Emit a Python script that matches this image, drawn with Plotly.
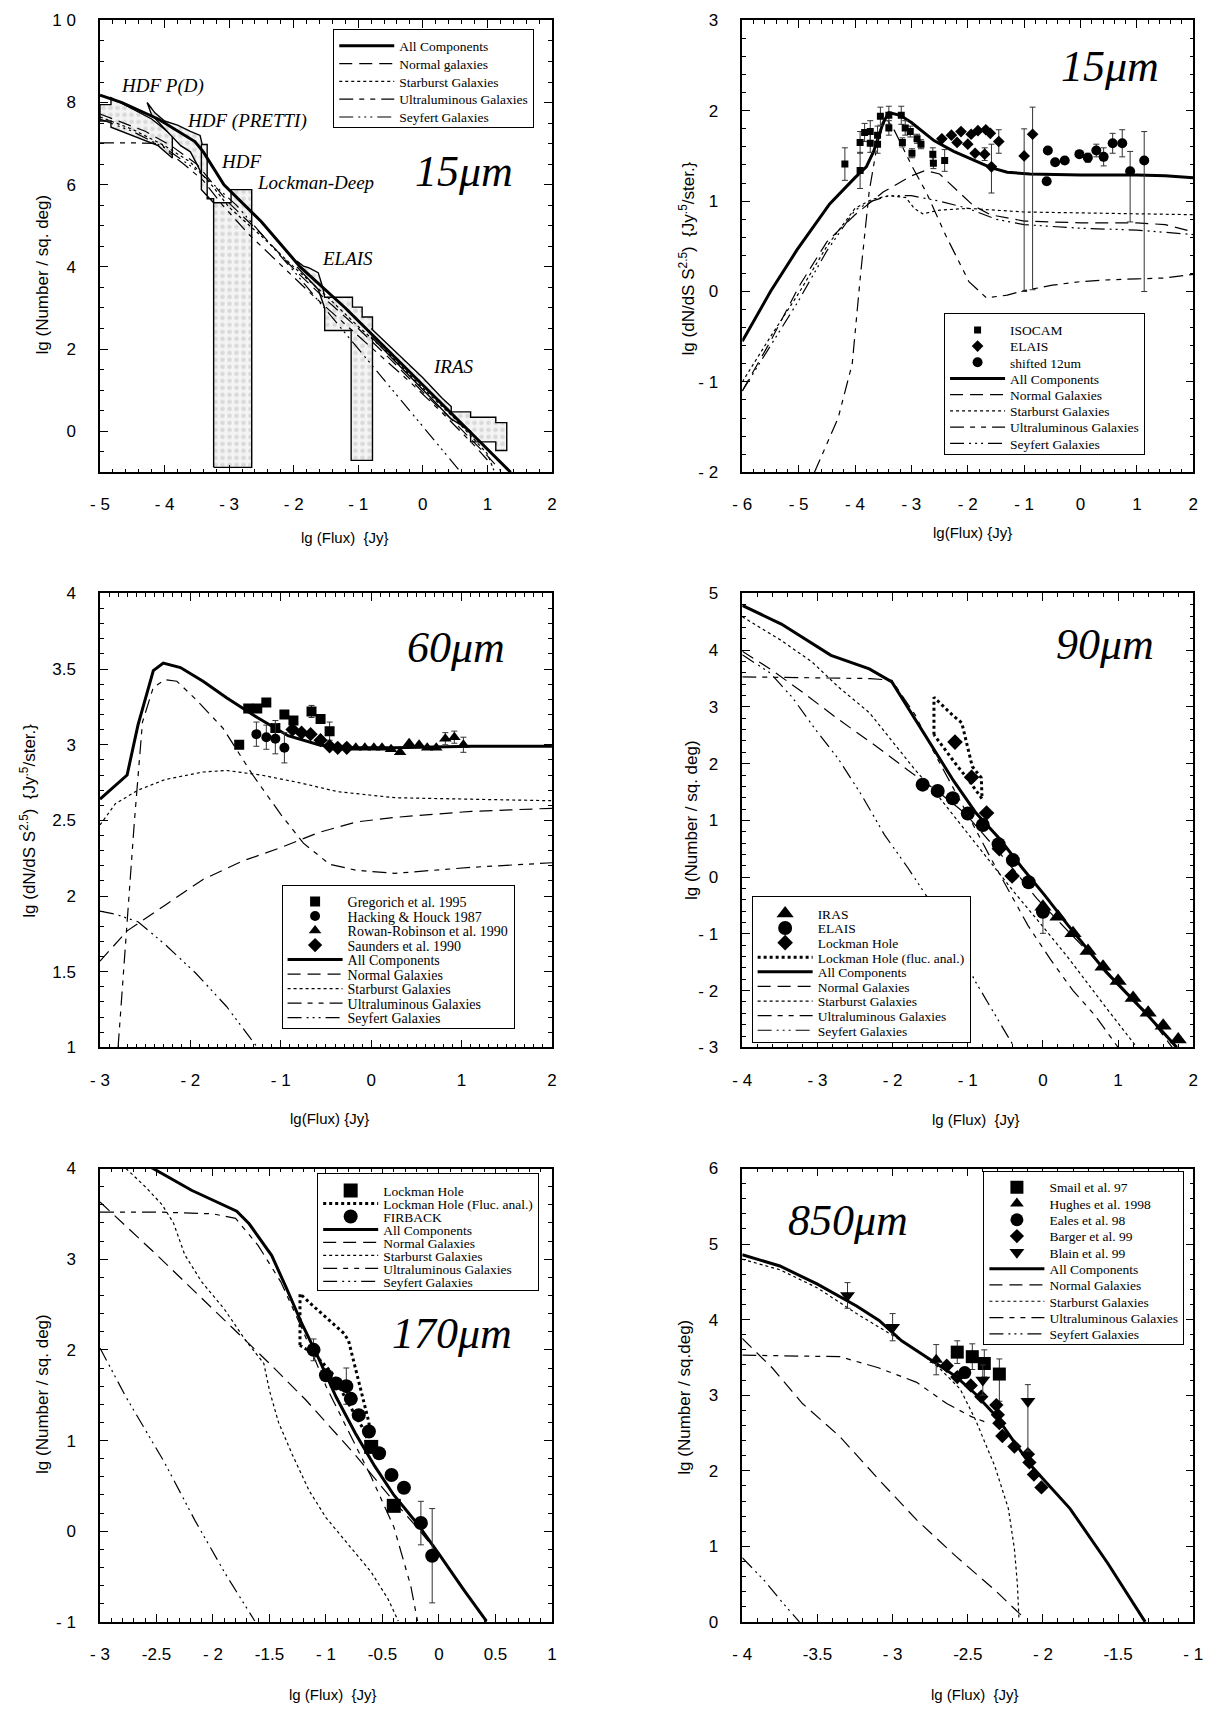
import json
import plotly.graph_objects as go

# ======================= DATA =======================
# ---- Panel 1 : 15 um integral counts ----
p1_all_x = [-5.0, -4.66, -4.1, -3.53, -3.4, -3.08, -2.5, -1.9, -1.2, -0.56, 0.0, 0.71, 1.36]
p1_all_y = [8.18, 8.0, 7.6, 7.05, 6.8, 6.0, 5.1, 4.0, 3.0, 2.0, 1.1, 0.0, -1.0]
p1_nor_x = [-5.0, -4.3, -3.9, -3.5, -3.0, -2.5, -2.0, -1.5, -1.0, -0.5, 0.0, 0.5, 1.0, 1.2]
p1_nor_y = [7.72, 7.3, 6.95, 6.5, 5.55, 4.8, 3.95, 3.2, 2.5, 1.75, 0.95, 0.2, -0.6, -0.95]
p1_sb_x = [-5.0, -4.5, -4.0, -3.6, -3.3, -3.0, -2.5, -2.0, -1.5, -1.0, -0.5, 0.0, 0.5, 1.0, 1.1]
p1_sb_y = [7.65, 7.35, 6.95, 6.55, 6.05, 5.45, 4.75, 4.0, 3.3, 2.55, 1.85, 1.05, 0.3, -0.55, -0.95]
p1_ul_x = [-5.0, -4.5, -4.05, -3.95, -3.7, -3.4, -3.1, -2.7, -2.2, -1.7, -1.2, -0.7, -0.2, 0.3, 0.8, 1.0]
p1_ul_y = [7.02, 7.02, 7.0, 6.8, 6.5, 6.1, 5.5, 4.8, 4.05, 3.3, 2.6, 1.9, 1.2, 0.45, -0.35, -0.7]
p1_sy_x = [-5.0, -4.5, -4.0, -3.5, -3.2, -2.88, -2.5, -2.0, -1.5, -1.0, -0.5, 0.0, 0.59]
p1_sy_y = [7.6, 7.3, 6.9, 6.35, 5.95, 5.49, 4.8, 3.9, 2.95, 2.0, 1.05, 0.1, -1.0]
# observational constraint regions (polygon outlines)
p1_hdfpd_x = [-5.0, -4.83, -4.83, -4.5, -4.2, -3.88, -3.88, -4.1, -4.5, -4.83, -4.83, -5.0, -5.0]
p1_hdfpd_y = [7.95, 7.95, 8.12, 7.85, 7.6, 7.2, 6.65, 6.95, 7.2, 7.4, 7.55, 7.55, 7.95]
p1_pretti_x = [-4.27, -4.15, -4.0, -3.8, -3.6, -3.45, -3.42, -3.42, -3.5, -3.6, -3.75, -3.9, -4.05, -4.2, -4.27]
p1_pretti_y = [8.0, 7.75, 7.55, 7.45, 7.3, 7.2, 7.0, 6.25, 6.5, 6.8, 6.95, 7.2, 7.45, 7.7, 8.0]
p1_hdf_x = [-3.43, -3.34, -3.34, -3.24, -3.24, -3.43, -3.43]
p1_hdf_y = [6.98, 6.98, 5.66, 5.66, 5.56, 5.88, 6.98]
p1_lock_x = [-3.24, -3.24, -2.97, -2.97, -2.65, -2.65, -3.24]
p1_lock_y = [-0.88, 5.56, 5.56, 5.88, 5.88, -0.88, -0.88]
p1_elais_x = [-1.95, -1.85, -1.77, -1.62, -1.55, -1.52, -1.09, -1.09, -0.94, -0.94, -0.78, -0.78,
              -1.11, -1.11, -1.52, -1.52, -1.62, -1.77, -1.95]
p1_elais_y = [4.14, 4.02, 3.98, 3.86, 3.5, 3.26, 3.26, 3.02, 3.02, 2.78, 2.78, -0.71,
              -0.71, 2.45, 2.45, 3.0, 3.45, 3.7, 4.0]
p1_iras_x = [-0.8, -0.4, 0.0, 0.3, 0.44, 0.44, 0.74, 0.74, 1.13, 1.13, 1.30, 1.30, 1.13, 1.13,
             0.74, 0.74, 0.44, 0.1, -0.3, -0.8]
p1_iras_y = [2.5, 1.9, 1.3, 0.8, 0.6, 0.47, 0.47, 0.34, 0.34, 0.21, 0.21, -0.47, -0.47, -0.26,
             -0.26, 0.0, 0.3, 0.85, 1.5, 2.3]
p1_lab_text = ["HDF P(D)", "HDF (PRETTI)", "HDF", "Lockman-Deep", "ELAIS", "IRAS"]
p1_lab_x = [-4.03, -2.73, -2.82, -1.66, -1.16, 0.47]
p1_lab_y = [8.41, 7.55, 6.57, 6.05, 4.21, 1.57]

# ---- Panel 2 : 15 um differential counts ----
p2_all_x = [-6, -5.5, -5.03, -4.45, -4.0, -3.8, -3.67, -3.5, -3.4, -3.2, -3.0, -2.6, -2.25, -1.84,
            -1.59, -1.3, -0.9, 0.0, 1.0, 1.5, 2.0]
p2_all_y = [-0.55, 0.0, 0.46, 0.97, 1.26, 1.38, 1.55, 1.87, 1.98, 1.95, 1.87, 1.67, 1.55, 1.44,
            1.37, 1.32, 1.30, 1.29, 1.29, 1.28, 1.26]
p2_nor_x = [-6, -5.5, -5, -4.5, -4.0, -3.5, -3.0, -2.75, -2.5, -2.2, -1.9, -1.6, -1.0, 0, 1, 1.5, 2]
p2_nor_y = [-1.1, -0.55, 0.05, 0.55, 0.85, 1.1, 1.28, 1.34, 1.3, 1.12, 0.95, 0.85, 0.78, 0.76, 0.76, 0.74, 0.66]
p2_sb_x = [-6, -5.5, -5, -4.5, -4, -3.7, -3.4, -3.1, -2.95, -2.8, -2.5, -2, -1.5, -1, 0, 1, 2]
p2_sb_y = [-1.0, -0.5, -0.02, 0.5, 0.92, 1.02, 1.06, 1.04, 0.92, 0.86, 0.9, 0.92, 0.9, 0.88, 0.87, 0.86, 0.85]
p2_ul_x = [-4.72, -4.3, -4.05, -3.9, -3.75, -3.6, -3.45, -3.3, -3.0, -2.73, -2.39, -1.98, -1.67, -1.3,
           -1.0, -0.5, 0, 0.5, 1, 1.5, 2]
p2_ul_y = [-2.0, -1.4, -0.8, 0.2, 1.1, 1.65, 1.92, 1.78, 1.4, 1.09, 0.62, 0.11, -0.07, -0.04,
           0.01, 0.07, 0.11, 0.13, 0.14, 0.15, 0.19]
p2_sy_x = [-6, -5.5, -5, -4.5, -4, -3.7, -3.4, -3.0, -2.5, -2.0, -1.5, -1.0, 0, 1, 2]
p2_sy_y = [-1.1, -0.6, -0.1, 0.45, 0.9, 1.0, 1.06, 1.06, 1.0, 0.92, 0.8, 0.74, 0.7, 0.68, 0.63]
p2_iso_x = [-4.18, -3.91, -3.91, -3.83, -3.73, -3.73, -3.60, -3.60, -3.55, -3.40, -3.40, -3.18, -3.16,
            -3.11, -3.02, -2.99, -2.90, -2.83, -2.62, -2.61, -2.41]
p2_iso_y = [1.41, 1.34, 1.65, 1.76, 1.77, 1.64, 1.73, 1.63, 1.94, 1.95, 1.81, 1.95, 1.65,
            1.81, 1.77, 1.53, 1.69, 1.63, 1.52, 1.42, 1.45]
p2_iso_e = [0.18, 0.2, 0.12, 0.1, 0.12, 0.1, 0.1, 0.1, 0.1, 0.1, 0.08, 0.1, 0.05,
            0.08, 0.06, 0.05, 0.05, 0.05, 0.07, 0.06, 0.12]
p2_ela_x = [-2.46, -2.29, -2.19, -2.12, -2.0, -1.94, -1.87, -1.82, -1.70, -1.68, -1.60, -1.58, -1.45, -1.0, -0.85]
p2_ela_y = [1.69, 1.73, 1.65, 1.77, 1.63, 1.74, 1.53, 1.78, 1.52, 1.79, 1.75, 1.38, 1.66, 1.50, 1.74]
p2_ela_ep = [None, None, None, None, None, None, None, None, 0.07, None, None, 0.25, 0.13, 0.3, 0.3]
p2_ela_em = [None, None, None, None, None, None, None, None, 0.07, None, None, 0.29, 0.13, 1.5, 1.72]
p2_c12_x = [-0.60, -0.58, -0.45, -0.28, -0.02, 0.13, 0.28, 0.41, 0.57, 0.74, 0.88, 1.13]
p2_c12_y = [1.22, 1.56, 1.43, 1.45, 1.52, 1.48, 1.56, 1.49, 1.64, 1.64, 1.33, 1.45]
p2_c12_ep = [None, None, None, None, None, 0.05, 0.07, 0.1, 0.11, 0.15, 0.22, 0.32]
p2_c12_em = [None, None, None, None, None, 0.05, 0.07, 0.1, 0.11, 0.15, 0.56, 1.45]

# ---- Panel 3 : 60 um differential counts ----
p3_all_x = [-3, -2.7, -2.58, -2.41, -2.3, -2.11, -1.86, -1.6, -1.26, -0.92, -0.58, -0.37, 0.26, 1.11, 2]
p3_all_y = [2.64, 2.80, 3.13, 3.49, 3.54, 3.51, 3.42, 3.31, 3.18, 3.06, 3.0, 2.98, 2.98, 2.99, 2.99]
p3_nor_x = [-3, -2.7, -2.28, -1.86, -1.43, -1.0, -0.58, -0.16, 0.26, 1.11, 2.0]
p3_nor_y = [1.57, 1.77, 1.94, 2.11, 2.23, 2.32, 2.42, 2.49, 2.52, 2.56, 2.58]
p3_sb_x = [-3, -2.83, -2.58, -2.28, -1.86, -1.6, -1.22, -0.8, -0.37, 0.26, 1.11, 2]
p3_sb_y = [2.47, 2.61, 2.70, 2.77, 2.82, 2.83, 2.80, 2.75, 2.69, 2.65, 2.64, 2.63]
p3_ul_x = [-2.8, -2.7, -2.62, -2.53, -2.41, -2.28, -2.15, -1.94, -1.64, -1.31, -1.0, -0.75, -0.46,
           -0.16, 0.26, 1.11, 2]
p3_ul_y = [1.0, 1.82, 2.49, 3.15, 3.38, 3.43, 3.42, 3.30, 3.11, 2.80, 2.54, 2.35, 2.21,
           2.17, 2.15, 2.19, 2.22]
p3_sy_x = [-3, -2.83, -2.58, -2.28, -1.94, -1.6, -1.26]
p3_sy_y = [1.9, 1.88, 1.83, 1.68, 1.49, 1.27, 1.0]
p3_gre_x = [-1.46, -1.36, -1.26, -1.16, -1.06, -0.96, -0.86, -0.66, -0.56, -0.46]
p3_gre_y = [3.0, 3.24, 3.24, 3.28, 3.11, 3.20, 3.16, 3.22, 3.17, 3.09]
p3_gre_e = [None, None, None, None, 0.05, None, None, 0.04, None, 0.06]
p3_hac_x = [-1.27, -1.16, -1.06, -0.96]
p3_hac_y = [3.07, 3.05, 3.04, 2.98]
p3_hac_e = [0.08, 0.08, 0.1, 0.1]
p3_row_x = [-0.17, -0.07, 0.03, 0.12, 0.22, 0.32, 0.42, 0.53, 0.62, 0.72, 0.82, 0.92, 1.02]
p3_row_y = [2.98, 2.98, 2.98, 2.98, 2.97, 2.95, 3.01, 3.0, 2.98, 2.98, 3.04, 3.05, 3.0]
p3_row_e = [None, None, None, None, None, None, None, None, None, None, 0.04, 0.04, 0.05]
p3_sau_x = [-0.87, -0.77, -0.67, -0.56, -0.46, -0.37, -0.27]
p3_sau_y = [3.10, 3.08, 3.07, 3.03, 2.99, 2.98, 2.98]

# ---- Panel 4 : 90 um integral counts ----
p4_all_x = [-4, -3.48, -2.82, -2.31, -2.01, -1.7, -1.4, -1.19, -0.89, -0.58, -0.28, 0.03, 0.33, 0.84, 1.35, 1.78]
p4_all_y = [4.79, 4.46, 3.91, 3.67, 3.44, 2.78, 2.14, 1.70, 1.13, 0.68, 0.17, -0.33, -0.84, -1.67, -2.37, -3.0]
p4_nor_x = [-4, -3.63, -3.23, -2.72, -2.21, -1.8, -1.4, -1.04, -0.69, -0.38, -0.08, 0.33, 0.84, 1.35, 1.72]
p4_nor_y = [3.98, 3.67, 3.29, 2.78, 2.30, 1.89, 1.51, 1.13, 0.6, 0.12, -0.38, -0.95, -1.65, -2.35, -3.0]
p4_sb_x = [-4, -3.48, -3.07, -2.72, -2.31, -2.01, -1.7, -1.4, -0.99, -0.69, -0.38, -0.02, 0.33, 0.84, 1.25]
p4_sb_y = [4.59, 4.17, 3.79, 3.35, 2.9, 2.4, 1.89, 1.44, 0.75, 0.24, -0.27, -0.84, -1.41, -2.3, -3.0]
p4_ul_x = [-4, -3, -2.3, -2.01, -1.7, -1.45, -1.2, -0.96, -0.7, -0.45, -0.2, 0.1, 0.4, 0.7, 1.0]
p4_ul_y = [3.53, 3.52, 3.5, 3.47, 2.86, 2.2, 1.6, 1.0, 0.35, -0.25, -0.85, -1.45, -2.0, -2.45, -3.0]
p4_sy_x = [-4, -3.63, -3.33, -3.02, -2.72, -2.41, -2.11, -1.8, -1.55, -1.19, -0.89, -0.38]
p4_sy_y = [3.92, 3.6, 3.16, 2.59, 2.08, 1.44, 0.75, 0.17, -0.33, -1.10, -1.86, -3.0]
p4_iras_x = [0.0, 0.2, 0.4, 0.6, 0.8, 1.0, 1.2, 1.4, 1.6, 1.8]
p4_iras_y = [-0.52, -0.7, -0.99, -1.3, -1.58, -1.83, -2.13, -2.39, -2.62, -2.86]
p4_ela_x = [-1.60, -1.40, -1.20, -1.0, -0.80, -0.59, -0.40, -0.19, 0.0]
p4_ela_y = [1.63, 1.52, 1.39, 1.12, 0.92, 0.58, 0.30, -0.09, -0.61]
p4_ela_em = [None, None, None, None, None, None, None, None, 0.38]
p4_lh_x = [-1.17, -0.95, -0.75, -0.58, -0.41]
p4_lh_y = [2.38, 1.76, 1.13, 0.50, 0.02]
p4_fl_x = [-1.45, -1.45, -1.19, -1.08, -0.94, -0.82, -0.81, -1.0, -1.14, -1.31, -1.45]
p4_fl_y = [2.51, 3.17, 2.84, 2.72, 1.95, 1.75, 1.38, 1.73, 1.96, 2.25, 2.51]

# ---- Panel 5 : 170 um integral counts ----
p5_all_x = [-2.6, -2.53, -2.19, -1.89, -1.79, -1.68, -1.48, -1.35, -1.21, -1.07, -0.91, -0.74, -0.57,
            -0.40, -0.19, 0.01, 0.21, 0.42]
p5_all_y = [4.04, 4.0, 3.76, 3.59, 3.53, 3.39, 3.04, 2.68, 2.28, 1.92, 1.48, 1.08, 0.72,
            0.40, 0.08, -0.27, -0.63, -0.99]
p5_nor_x = [-3, -2.5, -2.0, -1.5, -1.18, -1.0, -0.74, -0.46, -0.2, 0, 0.2, 0.42]
p5_nor_y = [3.63, 3.05, 2.45, 1.85, 1.45, 1.2, 0.84, 0.42, 0.05, -0.25, -0.6, -1.0]
p5_sb_x = [-2.77, -2.6, -2.45, -2.35, -2.25, -2.1, -1.9, -1.72, -1.55, -1.5, -1.42, -1.3, -1.15,
           -1.0, -0.8, -0.6, -0.45, -0.36]
p5_sb_y = [4.0, 3.8, 3.6, 3.4, 3.05, 2.75, 2.45, 2.12, 1.85, 1.55, 1.2, 0.85, 0.45,
           0.15, -0.15, -0.45, -0.75, -0.99]
p5_ul_x = [-3, -2.5, -2.0, -1.8, -1.6, -1.4, -1.2, -1.0, -0.8, -0.6, -0.4, -0.25, -0.19]
p5_ul_y = [3.52, 3.52, 3.5, 3.45, 3.15, 2.75, 2.2, 1.6, 1.1, 0.6, 0.05, -0.6, -0.99]
p5_sy_x = [-3, -2.77, -2.43, -2.16, -1.89, -1.63]
p5_sy_y = [2.02, 1.48, 0.76, 0.12, -0.47, -0.99]
p5_lh_x = [-0.6, -0.4]
p5_lh_y = [0.93, 0.28]
p5_fl_x = [-1.23, -1.23, -1.11, -0.84, -0.80, -0.62, -0.60, -0.68, -0.82, -0.95, -1.1, -1.23]
p5_fl_y = [2.05, 2.62, 2.48, 2.18, 2.10, 1.20, 0.92, 1.15, 1.45, 1.75, 1.95, 2.05]
p5_fir_x = [-1.11, -1.0, -0.91, -0.82, -0.78, -0.71, -0.62, -0.53, -0.42, -0.31, -0.16, -0.06]
p5_fir_y = [2.0, 1.72, 1.63, 1.6, 1.46, 1.28, 1.1, 0.86, 0.62, 0.48, 0.09, -0.27]
p5_fir_e = [0.12, None, None, 0.2, None, None, None, None, None, None, 0.24, 0.52]

# ---- Panel 6 : 850 um integral counts ----
p6_all_x = [-4, -3.75, -3.5, -3.24, -3.09, -2.94, -2.74, -2.58, -2.45, -2.31, -2.18, -2.08, -1.82, -1.57, -1.32]
p6_all_y = [4.86, 4.71, 4.47, 4.18, 3.99, 3.72, 3.46, 3.25, 3.02, 2.72, 2.35, 2.07, 1.50, 0.78, 0.0]
p6_sb_x = [-4, -3.75, -3.5, -3.24, -3.04, -2.84, -2.69, -2.55, -2.45, -2.32, -2.23, -2.19, -2.17, -2.16]
p6_sb_y = [4.80, 4.66, 4.42, 4.08, 3.84, 3.60, 3.36, 3.08, 2.68, 2.06, 1.50, 0.97, 0.5, 0.06]
p6_nor_x = [-4, -3.80, -3.60, -3.35, -3.09, -2.84, -2.58, -2.33, -2.14]
p6_nor_y = [3.75, 3.36, 2.89, 2.45, 1.88, 1.35, 0.87, 0.44, 0.08]
p6_ul_x = [-4, -3.35, -3.09, -2.84, -2.64, -2.48, -2.39]
p6_ul_y = [3.53, 3.51, 3.36, 3.17, 2.89, 2.72, 2.65]
p6_sy_x = [-4, -3.85, -3.73, -3.62]
p6_sy_y = [0.85, 0.54, 0.25, 0.0]
p6_sma_x = [-2.57, -2.47, -2.39, -2.29]
p6_sma_y = [3.57, 3.51, 3.42, 3.28]
p6_sma_ep = [0.15, 0.17, 0.18, 0.2]
p6_sma_em = [0.15, 0.17, 0.18, 0.36]
p6_hug_x = [-2.71]
p6_hug_y = [3.47]
p6_hug_e = [0.2]
p6_eal_x = [-2.52]
p6_eal_y = [3.30]
p6_bar_x = [-2.64, -2.57, -2.48, -2.41, -2.31, -2.30, -2.29, -2.27, -2.19, -2.10, -2.09, -2.06, -2.01]
p6_bar_y = [3.39, 3.24, 3.13, 2.98, 2.87, 2.74, 2.63, 2.46, 2.32, 2.22, 2.11, 1.95, 1.78]
p6_bla_x = [-3.30, -3.0, -2.40, -2.10]
p6_bla_y = [4.32, 3.90, 3.20, 2.92]
p6_bla_ep = [0.17, 0.18, 0.2, 0.22]
p6_bla_em = [0.17, 0.18, 0.2, 0.66]

# ======================= STYLE =======================
SANS = "Liberation Sans, Arial, Helvetica, sans-serif"
SERIF = "Liberation Serif, Times New Roman, serif"
D_NOR = "13px,7px"
D_SB = "3px,3px"
D_UL = "14px,6px,5px,6px,5px,6px"
D_SY = "14px,5px,2px,4px,2px,4px,2px,5px"
LW = 1.2

fig = go.Figure()


def add_line(ax, x, y, dash, width, name, leg, rank, show=True):
    fig.add_trace(go.Scatter(x=x, y=y, xaxis="x" + ax, yaxis="y" + ax, mode="lines",
                             line=dict(color="black", width=width, dash=dash),
                             name=name, legend=leg, legendrank=rank, showlegend=show,
                             hoverinfo="skip"))


def add_models(ax, leg, d, normal_label="Normal Galaxies"):
    add_line(ax, d[0][0], d[0][1], "solid", 3, "All Components", leg, 20)
    add_line(ax, d[1][0], d[1][1], D_NOR, LW, normal_label, leg, 21)
    add_line(ax, d[2][0], d[2][1], D_SB, LW, "Starburst Galaxies", leg, 22)
    add_line(ax, d[3][0], d[3][1], D_UL, LW, "Ultraluminous Galaxies", leg, 23)
    add_line(ax, d[4][0], d[4][1], D_SY, LW, "Seyfert Galaxies", leg, 24)


def add_pts(ax, x, y, symbol, size, name, leg, rank, ep=None, em=None):
    err = None
    if ep is not None:
        err = dict(type="data", array=ep, arrayminus=em if em is not None else ep,
                   symmetric=False, color="#333333", thickness=1, width=3)
    fig.add_trace(go.Scatter(x=x, y=y, xaxis="x" + ax, yaxis="y" + ax, mode="markers",
                             marker=dict(symbol=symbol, size=size, color="black",
                                         line=dict(color="black", width=0)),
                             error_y=err, name=name, legend=leg, legendrank=rank,
                             hoverinfo="skip"))


def add_poly(ax, x, y):
    fig.add_trace(go.Scatter(x=x, y=y, xaxis="x" + ax, yaxis="y" + ax, mode="lines",
                             line=dict(color="black", width=1.4), showlegend=False,
                             hoverinfo="skip", fill="toself", fillcolor="#f4f4f4",
                             fillpattern=dict(shape=".", size=7, solidity=0.35,
                                              fgcolor="#bdbdbd", bgcolor="#f4f4f4")))


# ---- Panel 1 ----
for px, py in [(p1_hdfpd_x, p1_hdfpd_y), (p1_pretti_x, p1_pretti_y), (p1_hdf_x, p1_hdf_y),
               (p1_lock_x, p1_lock_y), (p1_elais_x, p1_elais_y), (p1_iras_x, p1_iras_y)]:
    add_poly("", px, py)
add_models("", "legend", [(p1_all_x, p1_all_y), (p1_nor_x, p1_nor_y), (p1_sb_x, p1_sb_y),
                          (p1_ul_x, p1_ul_y), (p1_sy_x, p1_sy_y)], "Normal galaxies")

# ---- Panel 2 ----
add_models("2", "legend2", [(p2_all_x, p2_all_y), (p2_nor_x, p2_nor_y), (p2_sb_x, p2_sb_y),
                            (p2_ul_x, p2_ul_y), (p2_sy_x, p2_sy_y)])
add_pts("2", p2_iso_x, p2_iso_y, "square", 7, "ISOCAM", "legend2", 1, p2_iso_e)
add_pts("2", p2_ela_x, p2_ela_y, "diamond", 9, "ELAIS", "legend2", 2, p2_ela_ep, p2_ela_em)
add_pts("2", p2_c12_x, p2_c12_y, "circle", 10, "shifted 12um", "legend2", 3, p2_c12_ep, p2_c12_em)

# ---- Panel 3 ----
add_models("3", "legend3", [(p3_all_x, p3_all_y), (p3_nor_x, p3_nor_y), (p3_sb_x, p3_sb_y),
                            (p3_ul_x, p3_ul_y), (p3_sy_x, p3_sy_y)])
add_pts("3", p3_gre_x, p3_gre_y, "square", 10, "Gregorich et al. 1995", "legend3", 1, p3_gre_e)
add_pts("3", p3_hac_x, p3_hac_y, "circle", 10, "Hacking & Houck 1987", "legend3", 2, p3_hac_e)
add_pts("3", p3_row_x, p3_row_y, "triangle-up", 11, "Rowan-Robinson et al. 1990", "legend3", 3, p3_row_e)
add_pts("3", p3_sau_x, p3_sau_y, "diamond", 11, "Saunders et al. 1990", "legend3", 4)

# ---- Panel 4 ----
add_models("4", "legend4", [(p4_all_x, p4_all_y), (p4_nor_x, p4_nor_y), (p4_sb_x, p4_sb_y),
                            (p4_ul_x, p4_ul_y), (p4_sy_x, p4_sy_y)])
add_pts("4", p4_iras_x, p4_iras_y, "triangle-up", 15, "IRAS", "legend4", 1)
add_pts("4", p4_ela_x, p4_ela_y, "circle", 14, "ELAIS", "legend4", 2,
        [None] * len(p4_ela_x), p4_ela_em)
add_pts("4", p4_lh_x, p4_lh_y, "diamond", 12, "Lockman Hole", "legend4", 3)
fig.add_trace(go.Scatter(x=p4_fl_x, y=p4_fl_y, xaxis="x4", yaxis="y4", mode="lines",
                         line=dict(color="black", width=3, dash="3px,3px"),
                         name="Lockman Hole (fluc. anal.)", legend="legend4", legendrank=4,
                         hoverinfo="skip"))

# ---- Panel 5 ----
add_models("5", "legend5", [(p5_all_x, p5_all_y), (p5_nor_x, p5_nor_y), (p5_sb_x, p5_sb_y),
                            (p5_ul_x, p5_ul_y), (p5_sy_x, p5_sy_y)])
fig.add_trace(go.Scatter(x=p5_fl_x, y=p5_fl_y, xaxis="x5", yaxis="y5", mode="lines",
                         line=dict(color="black", width=3, dash="3px,3px"),
                         name="Lockman Hole (Fluc. anal.)", legend="legend5", legendrank=2,
                         hoverinfo="skip"))
add_pts("5", p5_lh_x, p5_lh_y, "square", 14, "Lockman Hole", "legend5", 1)
add_pts("5", p5_fir_x, p5_fir_y, "circle", 14, "FIRBACK", "legend5", 3, p5_fir_e)

# ---- Panel 6 ----
add_models("6", "legend6", [(p6_all_x, p6_all_y), (p6_nor_x, p6_nor_y), (p6_sb_x, p6_sb_y),
                            (p6_ul_x, p6_ul_y), (p6_sy_x, p6_sy_y)])
add_pts("6", p6_sma_x, p6_sma_y, "square", 13, "Smail et al. 97", "legend6", 1, p6_sma_ep, p6_sma_em)
add_pts("6", p6_hug_x, p6_hug_y, "triangle-up", 12, "Hughes et al. 1998", "legend6", 2, p6_hug_e)
add_pts("6", p6_eal_x, p6_eal_y, "circle", 13, "Eales et al. 98", "legend6", 3)
add_pts("6", p6_bar_x, p6_bar_y, "diamond", 11, "Barger et al. 99", "legend6", 4)
add_pts("6", p6_bla_x, p6_bla_y, "triangle-down", 13, "Blain et al. 99", "legend6", 5, p6_bla_ep, p6_bla_em)

# ======================= LAYOUT =======================
W, H = 1219, 1714
XL = [91.5 / W, 551 / W]
XR = [744.5 / W, 1203 / W]
R1 = [1 - 468.5 / H, 1 - 11.5 / H]
R2 = [1 - 1050 / H, 1 - 591 / H]
R3 = [1 - 1631 / H, 1 - 1172.5 / H]


def lab(v):
    s = ("%g" % v)
    if s.startswith("-"):
        body = s[1:]
        return "- " + body if len(body) == 1 else "-" + body
    if s == "10":
        return "1 0"
    return s


def xax(dom, anchor, rng, vals, minor):
    return dict(domain=dom, anchor=anchor, range=rng, tickmode="array", tickvals=vals,
                ticktext=[lab(v) for v in vals], ticks="inside", ticklen=8, tickwidth=1,
                tickcolor="black",
                minor=dict(ticks="inside", ticklen=4, dtick=minor, tick0=0, tickwidth=1,
                           tickcolor="black", showgrid=False),
                showline=True, linecolor="black", linewidth=1.5, mirror="ticks",
                showgrid=False, zeroline=False, ticklabelstandoff=16,
                tickfont=dict(family=SANS, size=17, color="black"))


def yax(dom, anchor, rng, vals, minor):
    d = xax(dom, anchor, rng, vals, minor)
    d["ticklabelstandoff"] = 19
    return d


fig.update_layout(
    width=W, height=H, margin=dict(l=0, r=0, t=0, b=0),
    paper_bgcolor="white", plot_bgcolor="white", showlegend=True,
    xaxis=xax(XL, "y", [-5, 2], list(range(-5, 3)), 0.2),
    yaxis=yax(R1, "x", [-1, 10], [0, 2, 4, 6, 8, 10], 0.5),
    xaxis2=xax(XR, "y2", [-6, 2], list(range(-6, 3)), 0.2),
    yaxis2=yax(R1, "x2", [-2, 3], list(range(-2, 4)), 0.2),
    xaxis3=xax(XL, "y3", [-3, 2], list(range(-3, 3)), 0.1),
    yaxis3=yax(R2, "x3", [1, 4], [1, 1.5, 2, 2.5, 3, 3.5, 4], 0.1),
    xaxis4=xax(XR, "y4", [-4, 2], list(range(-4, 3)), 0.2),
    yaxis4=yax(R2, "x4", [-3, 5], list(range(-3, 6)), 0.2),
    xaxis5=xax(XL, "y5", [-3, 1], [-3, -2.5, -2, -1.5, -1, -0.5, 0, 0.5, 1], 0.1),
    yaxis5=yax(R3, "x5", [-1, 4], list(range(-1, 5)), 0.2),
    xaxis6=xax(XR, "y6", [-4, -1], [-4, -3.5, -3, -2.5, -2, -1.5, -1], 0.1),
    yaxis6=yax(R3, "x6", [0, 6], list(range(0, 7)), 0.2),
)


def legend_box(x, y, xanchor, fs):
    return dict(x=x, y=y, xanchor=xanchor, yanchor="top", bgcolor="white",
                bordercolor="black", borderwidth=1, tracegroupgap=0, itemwidth=55,
                font=dict(family=SERIF, size=fs, color="black"), traceorder="normal")


fig.update_layout(
    legend=legend_box(533 / W, 1 - 20 / H, "right", 13.5),
    legend2=legend_box(1154 / W, 1 - 307 / H, "right", 13.5),
    legend3=legend_box(513 / W, 1 - 886 / H, "right", 14),
    legend4=legend_box(754 / W, 1 - 897 / H, "left", 13.5),
    legend5=legend_box(538 / W, 1 - 1177 / H, "right", 13.5),
    legend6=legend_box(1194 / W, 1 - 1175 / H, "right", 13.5),
)

ann = []
ytitle_n = "lg (Number / sq. deg)"
ytitle_d = "lg (dN/dS S<sup>2.5</sup>)  {Jy<sup>.5</sup>/ster.}"
for x, y, t in [(341, 534, "lg (Flux)  {Jy}"), (979, 529, "lg(Flux) {Jy}"),
                (325, 1121.6, "lg(Flux) {Jy}"), (981.7, 1123, "lg (Flux)  {Jy}"),
                (328.8, 1704, "lg (Flux)  {Jy}"), (981, 1704, "lg (Flux)  {Jy}")]:
    ann.append(dict(x=x / W, y=1 - y / H, xref="paper", yref="paper", text=t, showarrow=False,
                    xanchor="center", yanchor="middle", font=dict(family=SANS, size=15, color="black")))
for x, y, t in [(33, 268, ytitle_n), (688, 252.5, ytitle_d), (17.5, 820.6, ytitle_d),
                (693.5, 820, ytitle_n), (33, 1400, ytitle_n), (686, 1403.5, "lg (Number / sq.deg)")]:
    ann.append(dict(x=x / W, y=1 - y / H, xref="paper", yref="paper", text=t, showarrow=False,
                    textangle=-90, xanchor="center", yanchor="middle",
                    font=dict(family=SANS, size=17, color="black")))
for ax, x, y, t in [("", 0.63, 6.33, "15μm"), ("2", 0.53, 2.49, "15μm"), ("3", 0.94, 3.64, "60μm"),
                    ("4", 0.82, 4.10, "90μm"), ("5", 0.115, 2.18, "170μm"), ("6", -3.30, 5.31, "850μm")]:
    ann.append(dict(x=x, y=y, xref="x" + ax, yref="y" + ax, text="<i>%s</i>" % t, showarrow=False,
                    xanchor="center", yanchor="middle", font=dict(family=SERIF, size=44, color="black")))
for t, x, y in zip(p1_lab_text, p1_lab_x, p1_lab_y):
    ann.append(dict(x=x, y=y, xref="x", yref="y", text="<i>%s</i>" % t, showarrow=False,
                    xanchor="center", yanchor="middle", font=dict(family=SERIF, size=19, color="black")))
fig.update_layout(annotations=ann)

# legend row layout (first-row offset, row pitch, box height) to match the compact original legends
LEGEND_ROWS = {"legend": [17, 17.8, 98], "legend2": [17.3, 16.2, 141], "legend3": [16.4, 14.5, 143],
               "legend4": [17.4, 14.6, 146], "legend5": [17.5, 13.0, 117], "legend6": [16.2, 16.3, 173]}

post = """
var gd = document.getElementById('{plot_id}');
var spec = %s;
function fixLegends() {
  Object.keys(spec).forEach(function(k) {
    var g = gd.querySelector('g.infolayer > g.' + k);
    if (!g) return;
    var s = spec[k];
    var items = g.querySelectorAll('g.traces');
    items.forEach(function(t, i) {
      var tr = t.getAttribute('transform') || '';
      var m = tr.match(/translate\\(\\s*([-0-9.e]+)[\\s,]+([-0-9.e]+)\\s*\\)/);
      var x = m ? parseFloat(m[1]) : 0;
      t.setAttribute('transform', 'translate(' + x + ',' + (s[0] + i * s[1]) + ')');
    });
    var bg = g.querySelector('rect.bg');
    if (bg) bg.setAttribute('height', s[2]);
  });
}
fixLegends();
gd.on('plotly_afterplot', fixLegends);
""" % json.dumps(LEGEND_ROWS)

fig.write_html("out.html", post_script=post)
